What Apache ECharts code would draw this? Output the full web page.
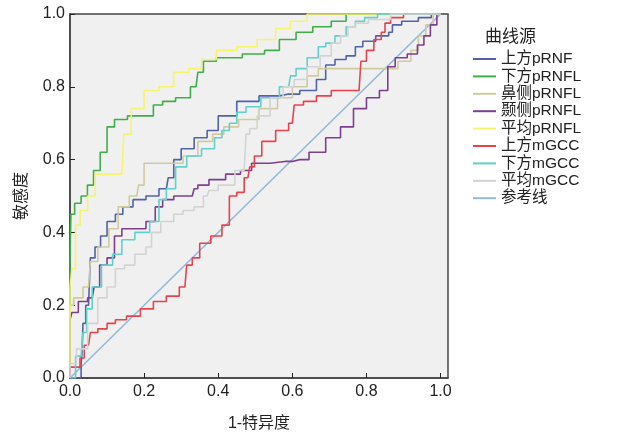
<!DOCTYPE html>
<html>
<head>
<meta charset="utf-8">
<script src="https://cdn.jsdelivr.net/npm/echarts@6/dist/echarts.min.js"></script>
<style>
  html, body { margin: 0; padding: 0; background: #fff; }
  #chart { width: 623px; height: 437px; }
</style>
</head>
<body>
<div id="chart"></div>
<script>
// ROC curves, points as [1-specificity, sensitivity]
const seriesNames = ['上方pRNF', '下方pRNFL', '鼻侧pRNFL', '颞侧pRNFL', '平均pRNFL', '上方mGCC', '下方mGCC', '平均mGCC', '参考线'];
const seriesColors = ['#5262a8', '#3fae4a', '#cfcb9f', '#7c3f8e', '#f6f46e', '#e8434d', '#60d0cb', '#d3d3d3', '#92b9d8'];

const upperPRNF = [[0, 0], [0.03, 0], [0.03, 0.04], [0.035, 0.07], [0.035, 0.15], [0.05, 0.2], [0.06, 0.33], [0.075, 0.36], [0.09, 0.39], [0.11, 0.43], [0.135, 0.45], [0.15, 0.47], [0.19, 0.49], [0.22, 0.5], [0.26, 0.52], [0.27, 0.55], [0.29, 0.6], [0.31, 0.63], [0.36, 0.66], [0.38, 0.68], [0.42, 0.72], [0.48, 0.76], [0.54, 0.775], [0.59, 0.78], [0.65, 0.79], [0.68, 0.82], [0.7, 0.86], [0.73, 0.875], [0.76, 0.885], [0.78, 0.91], [0.8, 0.925], [0.85, 0.94], [0.87, 0.95], [0.87, 0.97], [0.92, 0.98], [0.96, 0.99], [0.99, 1], [1, 1]];
const lowerPRNFL = [[0, 0], [0, 0.33], [0.005, 0.45], [0.02, 0.48], [0.04, 0.5], [0.054, 0.53], [0.073, 0.57], [0.09, 0.62], [0.11, 0.69], [0.13, 0.71], [0.18, 0.72], [0.21, 0.72], [0.24, 0.75], [0.26, 0.76], [0.31, 0.77], [0.34, 0.8], [0.35, 0.84], [0.37, 0.87], [0.42, 0.88], [0.51, 0.89], [0.54, 0.9], [0.59, 0.93], [0.63, 0.95], [0.68, 0.965], [0.73, 0.98], [0.76, 1], [1, 1]];
const nasalPRNFL = [[0, 0], [0, 0.2], [0.02, 0.22], [0.05, 0.25], [0.06, 0.32], [0.09, 0.36], [0.12, 0.41], [0.14, 0.47], [0.18, 0.5], [0.19, 0.53], [0.21, 0.59], [0.29, 0.59], [0.32, 0.61], [0.37, 0.65], [0.4, 0.67], [0.43, 0.69], [0.48, 0.71], [0.54, 0.74], [0.58, 0.77], [0.62, 0.8], [0.66, 0.83], [0.68, 0.85], [0.86, 0.85], [0.91, 0.87], [0.93, 0.9], [0.95, 0.94], [0.97, 0.97], [0.99, 1], [1, 1]];
const temporalPRNFL = [[0, 0], [0, 0.16], [0.01, 0.18], [0.035, 0.21], [0.06, 0.22], [0.07, 0.25], [0.09, 0.31], [0.11, 0.33], [0.13, 0.39], [0.15, 0.41], [0.19, 0.41], [0.22, 0.43], [0.24, 0.47], [0.26, 0.49], [0.3, 0.5], [0.33, 0.5], [0.34, 0.52], [0.35, 0.53], [0.4, 0.545], [0.44, 0.56], [0.48, 0.57], [0.5, 0.59], [0.58, 0.595], [0.62, 0.6], [0.67, 0.62], [0.71, 0.66], [0.75, 0.69], [0.78, 0.74], [0.82, 0.77], [0.85, 0.79], [0.865, 0.855], [0.89, 0.88], [0.93, 0.89], [0.945, 0.915], [0.965, 0.94], [0.98, 0.97], [1, 1]];
const avgPRNFL = [[0, 0], [0, 0.25], [0.01, 0.3], [0.02, 0.42], [0.035, 0.46], [0.06, 0.5], [0.076, 0.56], [0.14, 0.56], [0.15, 0.67], [0.18, 0.74], [0.22, 0.79], [0.26, 0.8], [0.3, 0.84], [0.34, 0.85], [0.37, 0.875], [0.42, 0.9], [0.48, 0.91], [0.53, 0.93], [0.58, 0.96], [0.61, 0.98], [0.67, 1], [1, 1]];
const upperMGCC = [[0, 0], [0, 0.03], [0.027, 0.03], [0.027, 0.055], [0.05, 0.09], [0.06, 0.125], [0.09, 0.135], [0.11, 0.15], [0.135, 0.16], [0.17, 0.17], [0.21, 0.19], [0.24, 0.21], [0.28, 0.225], [0.31, 0.25], [0.32, 0.31], [0.34, 0.33], [0.36, 0.37], [0.4, 0.39], [0.42, 0.42], [0.44, 0.5], [0.46, 0.51], [0.48, 0.55], [0.49, 0.58], [0.505, 0.61], [0.53, 0.65], [0.58, 0.68], [0.6, 0.7], [0.61, 0.75], [0.65, 0.76], [0.68, 0.775], [0.73, 0.79], [0.78, 0.79], [0.79, 0.87], [0.81, 0.9], [0.83, 0.93], [0.85, 0.95], [0.85, 0.975], [0.88, 0.99], [0.92, 1], [1, 1]];
const lowerMGCC = [[0, 0], [0.03, 0.06], [0.04, 0.125], [0.05, 0.19], [0.07, 0.25], [0.1, 0.31], [0.13, 0.34], [0.15, 0.38], [0.2, 0.4], [0.23, 0.43], [0.25, 0.49], [0.27, 0.52], [0.3, 0.58], [0.33, 0.61], [0.38, 0.63], [0.4, 0.66], [0.42, 0.68], [0.44, 0.7], [0.46, 0.73], [0.49, 0.745], [0.54, 0.77], [0.59, 0.8], [0.6, 0.83], [0.62, 0.85], [0.66, 0.88], [0.68, 0.91], [0.7, 0.92], [0.73, 0.94], [0.76, 0.965], [0.78, 0.98], [0.81, 0.99], [0.85, 1], [1, 1]];
const avgMGCC = [[0, 0], [0, 0.04], [0.035, 0.08], [0.06, 0.15], [0.09, 0.22], [0.11, 0.25], [0.135, 0.3], [0.16, 0.31], [0.19, 0.34], [0.22, 0.36], [0.22, 0.4], [0.27, 0.43], [0.29, 0.45], [0.32, 0.46], [0.35, 0.47], [0.37, 0.5], [0.38, 0.515], [0.42, 0.53], [0.47, 0.57], [0.48, 0.67], [0.49, 0.685], [0.52, 0.72], [0.56, 0.77], [0.59, 0.8], [0.62, 0.82], [0.66, 0.855], [0.69, 0.885], [0.72, 0.92], [0.74, 0.94], [0.76, 0.965], [0.78, 0.975], [0.83, 0.985], [0.9, 1], [1, 1]];
const referenceLine = [[0, 0], [1, 1]];

const curves = [upperPRNF, lowerPRNFL, nasalPRNFL, temporalPRNFL, avgPRNFL, upperMGCC, lowerMGCC, avgMGCC, referenceLine];

const font = '"Liberation Sans", Arial, "Noto Sans CJK SC", sans-serif';
const chart = echarts.init(document.getElementById('chart'));

const series = curves.map(function (data, i) {
    const isRef = i === curves.length - 1;
    return {
        name: seriesNames[i],
        type: 'line',
        data: data,
        step: isRef ? false : 'middle',
        showSymbol: false,
        symbol: 'none',
        animation: false,
        lineStyle: { color: seriesColors[i], width: 1.6 },
        itemStyle: { color: seriesColors[i] },
        z: isRef ? 1 : 2 + i
    };
});

chart.setOption({
    animation: false,
    textStyle: { fontFamily: font },
    title: {
        text: '曲线源',
        left: 480,
        top: 24,
        textStyle: { fontFamily: font, fontSize: 17, fontWeight: 'normal', color: '#222' }
    },
    legend: {
        orient: 'vertical',
        left: 468,
        top: 46,
        itemWidth: 23,
        itemHeight: 2,
        itemGap: 1.4,
        icon: 'rect',
        data: seriesNames,
        textStyle: { fontFamily: font, fontSize: 15.5, color: '#222', lineHeight: 16 }
    },
    grid: {
        left: 70,
        top: 14,
        width: 378,
        height: 369,
        show: true,
        backgroundColor: '#f0f0f0',
        borderColor: '#444',
        borderWidth: 1.5
    },
    xAxis: {
        type: 'value',
        min: 0,
        max: 1.02,
        interval: 0.2,
        name: '1-特异度',
        nameLocation: 'middle',
        nameGap: 38,
        nameTextStyle: { fontFamily: font, fontSize: 16, color: '#222' },
        axisLine: { show: true, onZero: false, lineStyle: { color: '#444', width: 1.5 } },
        axisTick: { show: true, inside: true, length: 5, lineStyle: { color: '#222' } },
        axisLabel: {
            showMaxLabel: false,
            fontSize: 16,
            color: '#222',
            margin: 6,
            formatter: function (v) { return v.toFixed(1); }
        },
        splitLine: { show: false }
    },
    yAxis: {
        type: 'value',
        min: 0,
        max: 1,
        interval: 0.2,
        name: '敏感度',
        nameLocation: 'middle',
        nameGap: 40,
        nameRotate: 90,
        nameTextStyle: { fontFamily: font, fontSize: 16, color: '#222' },
        axisLine: { show: true, onZero: false, lineStyle: { color: '#444', width: 1.5 } },
        axisTick: { show: true, inside: true, length: 5, lineStyle: { color: '#222' } },
        axisLabel: {
            fontSize: 16,
            color: '#222',
            margin: 5,
            formatter: function (v) { return v.toFixed(1); }
        },
        splitLine: { show: false }
    },
    series: series
});
</script>
</body>
</html>
